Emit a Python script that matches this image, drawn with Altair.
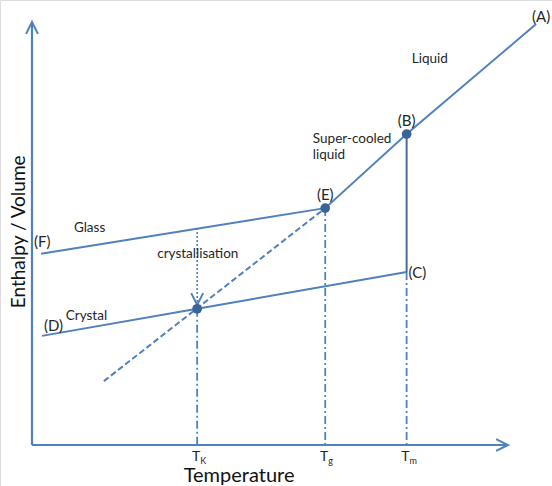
import altair as alt
import pandas as pd

# Characteristic temperatures (arbitrary units)
T_K, T_G, T_M = 34.7, 61.6, 78.7

# Key states on the enthalpy / volume vs temperature diagram
state_names = ["A", "B", "C", "D", "E", "F"]
state_T = [105.9, T_M, T_M, 2.1, T_G, 1.9]
state_H = [99.5, 73.5, 40.9, 25.8, 56.0, 45.2]
S = {n: (t, h) for n, t, h in zip(state_names, state_T, state_H)}

# Intersection of crystal line and extrapolated liquid line (at T_K)
X_T, X_H = T_K, 32.2
# Lower end of the extrapolated super-cooled liquid line
EXT_T, EXT_H = 15.1, 15.1
# Crystallisation drop: from glass line down to the crystal line
CRYST_TOP_H, CRYST_TIP_H = 51.3, 33.1
# Axis extents
T_END, H_END = 100.0, 100.0

BLUE = "#4f81bd"
DARK = "#3a6398"
FONT = "Lato"

xs = alt.Scale(domain=[-6.72, 109.24], nice=False, zero=False)
ys = alt.Scale(domain=[-9.69, 105.2], nice=False, zero=False)


def path_df(segments):
    rows = []
    for seg, pts in segments.items():
        for i, (t, h) in enumerate(pts):
            rows.append({"seg": seg, "ord": i, "T": t, "H": h})
    return pd.DataFrame(rows)


def lines(df, color=BLUE, width=2.0, dash=None):
    kw = dict(color=color, strokeWidth=width)
    if dash:
        kw["strokeDash"] = dash
    return alt.Chart(df).mark_line(**kw).encode(
        x=alt.X("T:Q", scale=xs, axis=None),
        y=alt.Y("H:Q", scale=ys, axis=None),
        detail="seg:N",
        order="ord:Q",
    )


# Axes
axes = lines(path_df({"x": [(0, 0), (T_END, 0)], "y": [(0, 0), (0, H_END)]}), width=2.2)

# Open arrowheads (chevron symbol, rotated by angle)
arrow_df = pd.DataFrame({
    "T": [0, T_END, T_K],
    "H": [H_END, 0, CRYST_TIP_H],
    "ang": [0, 90, 180],
})
arrows = alt.Chart(arrow_df).mark_point(
    shape="M-0.85,1.7L0,0L0.85,1.7", filled=False, color=BLUE,
    strokeWidth=2, size=196, opacity=1,
).encode(
    x=alt.X("T:Q", scale=xs, axis=None),
    y=alt.Y("H:Q", scale=ys, axis=None),
    angle=alt.Angle("ang:Q", scale=None),
)

# Liquid / super-cooled liquid, glass and crystal branches
solid = lines(path_df({
    "liquid": [S["E"], S["B"], S["A"]],
    "glass": [S["F"], S["E"]],
    "crystal": [S["D"], (X_T, X_H), S["C"]],
}))

# Melting step at T_m
melt = lines(path_df({"melt": [S["B"], S["C"]]}), color="#4a6a9c", width=2.0)

# Extrapolated super-cooled liquid below T_g
extrap = lines(path_df({"ext": [(EXT_T, EXT_H), S["E"]]}), dash=[6, 3])

# Dash-dot drop lines to the temperature axis
drops = lines(path_df({
    "k": [(T_K, X_H), (T_K, 0)],
    "g": [S["E"], (T_G, 0)],
    "m": [S["C"], (T_M, 0)],
}), width=1.8, dash=[8, 3, 2, 3])

# Dotted crystallisation path
dotted = lines(path_df({"c": [(T_K, CRYST_TOP_H), (T_K, CRYST_TIP_H)]}), width=1.6, dash=[2, 2])

# Marked states
pts_df = pd.DataFrame({"T": [S["B"][0], S["E"][0], X_T], "H": [S["B"][1], S["E"][1], X_H]})
points = alt.Chart(pts_df).mark_circle(size=95, color=DARK, opacity=1).encode(
    x=alt.X("T:Q", scale=xs, axis=None),
    y=alt.Y("H:Q", scale=ys, axis=None),
)


def text(label, t, h, size=13, align="left", dx=0, dy=0, angle=0,
         color="#262626", baseline="middle"):
    kw = dict(font=FONT, fontSize=size, align=align, baseline=baseline,
              dx=dx, dy=dy, color=color)
    if angle:
        kw["angle"] = angle
    return alt.Chart(pd.DataFrame({"T": [t], "H": [h], "s": [label]})).mark_text(**kw).encode(
        x=alt.X("T:Q", scale=xs, axis=None),
        y=alt.Y("H:Q", scale=ys, axis=None),
        text="s:N",
    )


state_labels = [
    text("(A)", *S["A"], size=15, align="center", dx=5, dy=-7),
    text("(B)", *S["B"], size=15, align="center", dx=0, dy=-13),
    text("(E)", *S["E"], size=15, align="center", dx=0, dy=-13),
    text("(C)", *S["C"], size=15, align="left", dx=2, dy=1),
    text("(D)", *S["D"], size=15, align="left", dx=2, dy=-10),
    text("(F)", *S["F"], size=15, align="left", dx=-7, dy=-12),
]

region_labels = [
    text("Liquid", 79.8, 91.3, size=13.5),
    text("Super-cooled", 59.0, 72.3, size=13.5),
    text("liquid", 59.0, 68.6, size=13.5),
    text("Glass", 8.8, 51.3, size=13.5),
    text("crystallisation", 26.3, 45.1, size=13.5),
    text("Crystal", 7.1, 30.5, size=13.5),
]

# Temperature tick labels with subscripts
tick_labels = []
for t, sub in [(T_K, "K"), (T_G, "g"), (T_M, "m")]:
    tick_labels.append(text("T", t, -3.75, size=14, align="right", dx=3, baseline="alphabetic"))
    tick_labels.append(text(sub, t, -4.4, size=9, align="left", dx=3, baseline="alphabetic"))

titles = [
    text("Temperature", 43.5, -8.8, size=20, align="center", color="#111111",
         baseline="alphabetic"),
    text("Enthalpy / Volume", -2.75, 50.4, size=19, align="center", angle=270, color="#111111"),
]

chart = alt.layer(
    drops, dotted, extrap, axes, arrows, melt, solid, points,
    *state_labels, *region_labels, *tick_labels, *titles,
).properties(
    width=552, height=486, padding=0,
    autosize=alt.AutoSizeParams(type="none"),
).configure_view(stroke=None).configure(background="white")

chart.save("out.html", embed_options={"renderer": "svg", "actions": False})
